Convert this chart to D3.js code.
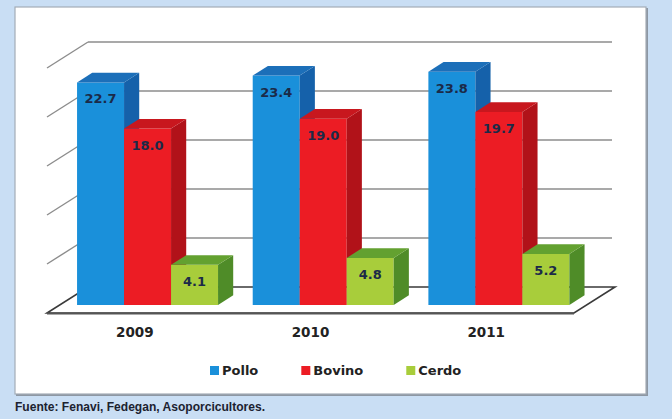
<!DOCTYPE html>
<html><head><meta charset="utf-8">
<script src="https://cdn.jsdelivr.net/npm/d3@7"></script>
<style>html,body{margin:0;padding:0;background:#c9def4;}svg{display:block;}</style>
</head><body>
<svg id="chart" width="672" height="419"></svg>
<script>
const years = ["2009", "2010", "2011"];
const series = ["Pollo", "Bovino", "Cerdo"];
const pollo = [22.7, 23.4, 23.8];
const bovino = [18.0, 19.0, 19.7];
const cerdo = [4.1, 4.8, 5.2];
const gridTicks = [0, 5, 10, 15, 20, 25];
const source = "Fuente: Fenavi, Fedegan, Asoporcicultores.";

const values = {Pollo: pollo, Bovino: bovino, Cerdo: cerdo};
const colors = {
  Pollo:  {front: "#1a90da", top: "#1c6fb9", side: "#1561aa"},
  Bovino: {front: "#ec1c24", top: "#c8171e", side: "#b11219"},
  Cerdo:  {front: "#a8cd3b", top: "#63a130", side: "#4f8c28"}
};

const svg = d3.select("#chart");
svg.append("rect").attr("width", 672).attr("height", 419).attr("fill", "#c9def4");
svg.append("rect").attr("x", 16).attr("y", 8).attr("width", 632).attr("height", 388)
  .attr("fill", "#8d97a3");
svg.append("rect").attr("x", 15).attr("y", 7).attr("width", 631).attr("height", 387)
  .attr("fill", "#ffffff").attr("stroke", "#a3acb6").attr("stroke-width", 1.2);

// 3D geometry
const floorY = 313, depthX = 41, depthY = -26;
const x = d3.scaleBand().domain(years).range([47, 574]).paddingInner(0).paddingOuter(0);
const xs = d3.scaleBand().domain(series).range([0, x.bandwidth()]).paddingInner(0).paddingOuter(0.369);
const y = d3.scaleLinear().domain([0, 25]).range([0, 245]);
const P = (px, v, d) => [px + d * depthX, floorY + d * depthY - y(v)];
const poly = pts => "M" + pts.map(p => p.join(",")).join("L") + "Z";

const x0 = x.range()[0], x1 = x.range()[1];

// floor
svg.append("path")
  .attr("d", poly([P(x0, 0, 0), P(x1, 0, 0), P(x1, 0, 1), P(x0, 0, 1)]))
  .attr("fill", "#ffffff").attr("stroke", "#3a3a3a").attr("stroke-width", 1.6)
  .attr("stroke-linejoin", "miter");
svg.append("line")
  .attr("x1", P(x0, 0, 0)[0]).attr("y1", floorY + 0.5)
  .attr("x2", P(x1, 0, 0)[0]).attr("y2", floorY + 0.5)
  .attr("stroke", "#555").attr("stroke-width", 2.2);

// gridlines on back wall + left ticks
const grid = svg.append("g");
gridTicks.filter(t => t > 0).forEach(t => {
  const a = P(x0, t, 1), b = P(x1, t, 1), c = P(x0, t, 0);
  grid.append("line").attr("x1", a[0]).attr("y1", a[1]).attr("x2", b[0] - 3).attr("y2", b[1])
    .attr("stroke", "#8c8c8c").attr("stroke-width", 1.4);
  grid.append("line").attr("x1", c[0]).attr("y1", c[1]).attr("x2", a[0]).attr("y2", a[1])
    .attr("stroke", "#8c8c8c").attr("stroke-width", 1.4);
});

// bars
const d0 = 0.31, d1 = 0.68;
const bars = svg.append("g");
years.forEach((yr, i) => {
  series.forEach(s => {
    const v = values[s][i];
    const bx = x(yr) + xs(s), bw = xs.bandwidth();
    const g = bars.append("g");
    const c = colors[s];
    // front
    g.append("path").attr("d", poly([P(bx, 0, d0), P(bx + bw, 0, d0), P(bx + bw, v, d0), P(bx, v, d0)]))
      .attr("fill", c.front);
    // side
    g.append("path").attr("d", poly([P(bx + bw, 0, d0), P(bx + bw, 0, d1), P(bx + bw, v, d1), P(bx + bw, v, d0)]))
      .attr("fill", c.side);
    // top
    g.append("path").attr("d", poly([P(bx, v, d0), P(bx + bw, v, d0), P(bx + bw, v, d1), P(bx, v, d1)]))
      .attr("fill", c.top);
    const tp = P(bx + bw / 2, v, d0);
    g.append("text").attr("x", tp[0]).attr("y", tp[1] + 21)
      .attr("text-anchor", "middle")
      .attr("font-family", "DejaVu Sans, sans-serif").attr("font-weight", "bold")
      .attr("font-size", 13).attr("fill", "#1b2a48")
      .text(v.toFixed(1));
  });
});

// year labels
svg.append("g").selectAll("text").data(years).join("text")
  .attr("x", d => x(d) + x.bandwidth() / 2).attr("y", 337)
  .attr("text-anchor", "middle")
  .attr("font-family", "DejaVu Sans, sans-serif").attr("font-weight", "bold")
  .attr("font-size", 13.5).attr("fill", "#222")
  .text(d => d);

// legend
const leg = svg.append("g");
let lx = 210;
series.forEach(s => {
  leg.append("rect").attr("x", lx).attr("y", 366).attr("width", 9).attr("height", 9)
    .attr("fill", colors[s].front);
  const t = leg.append("text").attr("x", lx + 12).attr("y", 375)
    .attr("font-family", "DejaVu Sans, sans-serif").attr("font-weight", "bold")
    .attr("font-size", 13).attr("fill", "#222").text(s);
  lx += 12 + t.node().getComputedTextLength() + 43;
});

// source
svg.append("text").attr("x", 15).attr("y", 411)
  .attr("font-family", "Liberation Sans, Arial, sans-serif").attr("font-weight", "bold")
  .attr("font-size", 12).attr("fill", "#1c2230")
  .attr("textLength", 250).attr("lengthAdjust", "spacingAndGlyphs")
  .text(source);
</script>
</body></html>
